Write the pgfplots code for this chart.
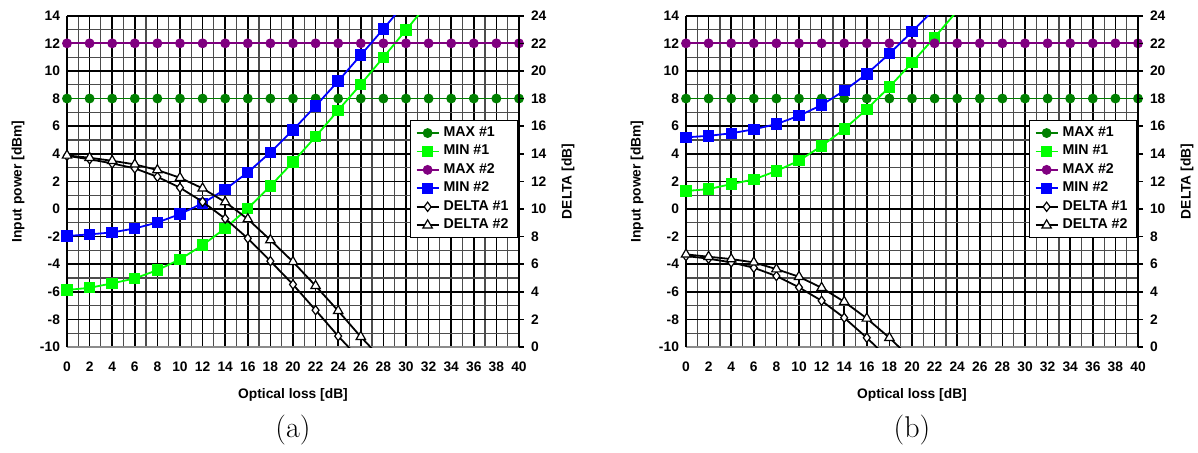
\documentclass[border=0pt]{standalone}
\usepackage{pgfplots}
\pgfplotsset{compat=1.18}
\usepackage{fontspec}
\newfontfamily\arial{Liberation Sans}
\definecolor{cmax1}{RGB}{0,128,0}
\definecolor{cmin1}{RGB}{0,255,0}
\definecolor{cmax2}{RGB}{128,0,128}
\definecolor{cmin2}{RGB}{0,0,255}
\newcommand\fs{\fontsize{6.9}{8}\selectfont\arial\bfseries}
\newcommand\fl{\fontsize{7.1}{8}\selectfont\arial\bfseries}

\pgfplotsset{
 base/.style={scale only axis, width=226pt, height=165.65pt, xmin=0, xmax=40,
   font=\fs, /pgf/number format/assume math mode=true,
   legend image code/.code={\draw[mark repeat=2,mark phase=2] plot coordinates {(0pt,0pt)(5.5pt,0pt)(11pt,0pt)};}},
 leftax/.style={base, ymin=-10, ymax=14, xtick={0,2,...,40}, ytick={-10,-8,...,14},
   minor x tick num=1, minor y tick num=1, grid=both,
   major grid style={black, line width=0.8pt}, minor grid style={black!70, line width=0.6pt},
   major tick length=0pt, minor tick length=0pt,
   axis x line*=bottom, axis y line*=left,
   x axis line style={black!45, line width=1pt,-}, y axis line style={black,line width=0.8pt,-},
   xticklabel style={yshift=-4pt},
   ylabel={Input power [dBm]}, xlabel={Optical loss [dB]},
   ylabel style={at={(axis description cs:-0.1084,0.5)}, anchor=center},
   xlabel style={at={(axis description cs:0.5,0)}, yshift=-24pt, anchor=center}},
 rightax/.style={base, ymin=0, ymax=24, ytick={0,2,...,24},
   axis x line=none, axis y line*=right, y axis line style={black,line width=0.8pt,-},
   tick align=outside, major tick length=2.5pt, ytick style={black, line width=0.8pt},
   ylabel={DELTA [dB]},
   ylabel style={at={(axis description cs:1.1084,0.5)}, anchor=center, rotate=0},
   legend cell align=left,
   legend style={at={(rel axis cs:0.998,0.685)}, anchor=north east, draw=black, line width=0.6pt,
     fill=white, font=\fl, row sep=-1.2pt, inner xsep=2.5pt, inner ysep=1pt}},
 pmax1/.style={cmax1, line width=0.9pt, mark=*, mark size=2.0pt},
 pmin1/.style={cmin1, line width=0.9pt, mark=square*, mark size=2.4pt},
 pmax2/.style={cmax2, line width=0.9pt, mark=*, mark size=2.0pt},
 pmin2/.style={cmin2, line width=0.9pt, mark=square*, mark size=2.4pt},
 pd1/.style={black, line width=0.9pt, mark=diamond*, mark size=2.3pt, mark options={fill=white, draw=black, line width=0.6pt}},
 pd2/.style={black, line width=0.9pt, mark=triangle*, mark size=2.7pt, mark options={fill=white, draw=black, line width=0.6pt}},
}

\pgfplotstableread{
x y
0 8
2 8
4 8
6 8
8 8
10 8
12 8
14 8
16 8
18 8
20 8
22 8
24 8
26 8
28 8
30 8
32 8
34 8
36 8
38 8
40 8
}\maxone
\pgfplotstableread{
x y
0 12
2 12
4 12
6 12
8 12
10 12
12 12
14 12
16 12
18 12
20 12
22 12
24 12
26 12
28 12
30 12
32 12
34 12
36 12
38 12
40 12
}\maxtwo
\pgfplotstableread{
x y
0 -5.87
2 -5.71
4 -5.39
6 -5.03
8 -4.43
10 -3.65
12 -2.62
14 -1.40
16 0.04
18 1.66
20 3.40
22 5.24
24 7.15
26 9.03
28 10.99
30 12.96
32 14.95
}\minonea
\pgfplotstableread{
x y
0 -1.96
2 -1.84
4 -1.70
6 -1.41
8 -0.98
10 -0.37
12 0.41
14 1.42
16 2.65
18 4.10
20 5.72
22 7.46
24 9.26
26 11.15
28 13.04
30 15.00
}\mintwoa
\pgfplotstableread{
x y
0 13.85
2 13.60
4 13.30
6 12.94
8 12.33
10 11.54
12 10.52
14 9.30
16 7.87
18 6.22
20 4.53
22 2.67
24 0.79
26 -0.95
}\donea
\pgfplotstableread{
x y
0 13.88
2 13.71
4 13.49
6 13.23
8 12.82
10 12.26
12 11.49
14 10.50
16 9.27
18 7.75
20 6.17
22 4.43
24 2.62
26 0.74
28 -1.00
}\dtwoa
\pgfplotstableread{
x y
0 1.30
2 1.44
4 1.80
6 2.14
8 2.75
10 3.50
12 4.56
14 5.79
16 7.22
18 8.84
20 10.60
22 12.43
24 14.35
}\minoneb
\pgfplotstableread{
x y
0 5.19
2 5.30
4 5.48
6 5.77
8 6.15
10 6.75
12 7.53
14 8.57
16 9.78
18 11.25
20 12.84
22 14.50
}\mintwob
\pgfplotstableread{
x y
0 6.59
2 6.40
4 6.13
6 5.74
8 5.14
10 4.32
12 3.35
14 2.12
16 0.67
18 -0.90
}\doneb
\pgfplotstableread{
x y
0 6.71
2 6.54
4 6.37
6 6.13
8 5.64
10 5.09
12 4.29
14 3.28
16 2.07
18 0.67
20 -0.90
}\dtwob

\begin{document}
\begin{tikzpicture}
\useasboundingbox (-33.5pt,-52.5pt) rectangle (565.5pt,173.5pt);
% ---------- (a)
\begin{axis}[leftax, name=A, at={(0pt,0pt)}, anchor=south west]
\addplot[pmax1] table {\maxone};
\addplot[pmin1] table {\minonea};
\addplot[pmax2] table {\maxtwo};
\addplot[pmin2] table {\mintwoa};
\end{axis}
\begin{axis}[rightax, at={(0pt,0pt)}, anchor=south west]
\addlegendimage{pmax1}\addlegendentry{MAX \#1}
\addlegendimage{pmin1}\addlegendentry{MIN \#1}
\addlegendimage{pmax2}\addlegendentry{MAX \#2}
\addlegendimage{pmin2}\addlegendentry{MIN \#2}
\addplot[pd1] table {\donea};\addlegendentry{DELTA \#1}
\addplot[pd2] table {\dtwoa};\addlegendentry{DELTA \#2}
\end{axis}
\node[font=\fontsize{15}{18}\selectfont, anchor=center] at ([yshift=-41.5pt]A.south) {(a)};
% ---------- (b)
\begin{axis}[leftax, name=B, at={(309.5pt,0pt)}, anchor=south west]
\addplot[pmax1] table {\maxone};
\addplot[pmin1] table {\minoneb};
\addplot[pmax2] table {\maxtwo};
\addplot[pmin2] table {\mintwob};
\end{axis}
\begin{axis}[rightax, at={(309.5pt,0pt)}, anchor=south west]
\addlegendimage{pmax1}\addlegendentry{MAX \#1}
\addlegendimage{pmin1}\addlegendentry{MIN \#1}
\addlegendimage{pmax2}\addlegendentry{MAX \#2}
\addlegendimage{pmin2}\addlegendentry{MIN \#2}
\addplot[pd1] table {\doneb};\addlegendentry{DELTA \#1}
\addplot[pd2] table {\dtwob};\addlegendentry{DELTA \#2}
\end{axis}
\node[font=\fontsize{15}{18}\selectfont, anchor=center] at ([yshift=-41.5pt]B.south) {(b)};
\end{tikzpicture}
\end{document}
